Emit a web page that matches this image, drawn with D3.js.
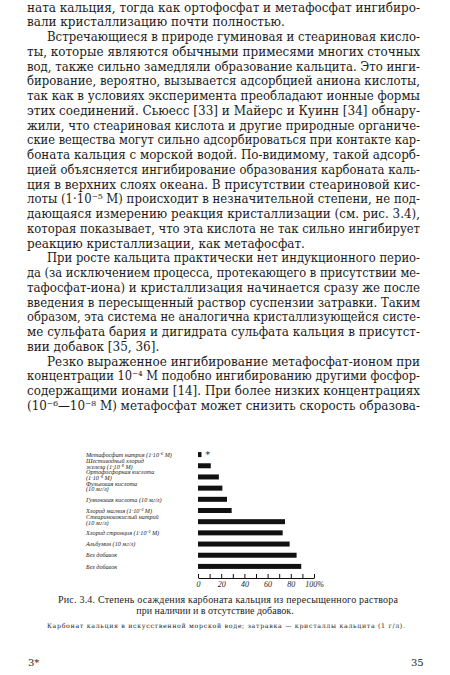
<!DOCTYPE html>
<html>
<head>
<meta charset="utf-8">
<script src="https://cdn.jsdelivr.net/npm/d3@7"></script>
<style>
  body {margin: 0; background: #fff;}
  svg {display: block;}
</style>
</head>
<body>
<div class="page"></div>
<script>
// body text of the page, one entry per printed line; [text, indent, justify]
var bodyLines = [
  ['ната кальция, тогда как ортофосфат и метафосфат ингибиро-', 0, 1],
  ['вали кристаллизацию почти полностью.', 0, 0],
  ['Встречающиеся в природе гуминовая и стеариновая кисло-', 1, 1],
  ['ты, которые являются обычными примесями многих сточных', 0, 1],
  ['вод, также сильно замедляли образование кальцита. Это инги-', 0, 1],
  ['бирование, вероятно, вызывается адсорбцией аниона кислоты,', 0, 1],
  ['так как в условиях эксперимента преобладают ионные формы', 0, 1],
  ['этих соединений. Сьюесс [33] и Майерс и Куинн [34] обнару-', 0, 1],
  ['жили, что стеариновая кислота и другие природные органиче-', 0, 1],
  ['ские вещества могут сильно адсорбироваться при контакте кар-', 0, 1],
  ['боната кальция с морской водой. По-видимому, такой адсорб-', 0, 1],
  ['цией объясняется ингибирование образования карбоната каль-', 0, 1],
  ['ция в верхних слоях океана. В присутствии стеариновой кис-', 0, 1],
  ['лоты (1·10⁻⁵ М) происходит в незначительной степени, не под-', 0, 1],
  ['дающаяся измерению реакция кристаллизации (см. рис. 3.4),', 0, 1],
  ['которая показывает, что эта кислота не так сильно ингибирует', 0, 1],
  ['реакцию кристаллизации, как метафосфат.', 0, 0],
  ['При росте кальцита практически нет индукционного перио-', 1, 1],
  ['да (за исключением процесса, протекающего в присутствии ме-', 0, 1],
  ['тафосфат-иона) и кристаллизация начинается сразу же после', 0, 1],
  ['введения в пересыщенный раствор суспензии затравки. Таким', 0, 1],
  ['образом, эта система не аналогична кристаллизующейся систе-', 0, 1],
  ['ме сульфата бария и дигидрата сульфата кальция в присутст-', 0, 1],
  ['вии добавок [35, 36].', 0, 0],
  ['Резко выраженное ингибирование метафосфат-ионом при', 1, 1],
  ['концентрации 10⁻⁴ М подобно ингибированию другими фосфор-', 0, 1],
  ['содержащими ионами [14]. При более низких концентрациях', 0, 1],
  ['(10⁻⁶—10⁻⁸ М) метафосфат может снизить скорость образова-', 0, 1]
]

// chart data
var additives = [
  ['Метафосфат натрия (1·10⁻⁶ М)'],
  ['Шестиводный хлорид', 'железа (1·10⁻⁵ М)'],
  ['Ортофосфорная кислота', '(1·10⁻⁵ М)'],
  ['Фульвовая кислота', '(10 мг/л)'],
  ['Гуминовая кислота (10 мг/л)'],
  ['Хлорид магния (1·10⁻² М)'],
  ['Стеариновокислый натрий', '(10 мг/л)'],
  ['Хлорид стронция (1·10⁻² М)'],
  ['Альбумин (10 мг/л)'],
  ['Без добавок'],
  ['Без добавок']
]
var precipitated = [3, 11, 18, 21, 25, 29, 75, 73, 79, 85, 89]
var barNotes = ['*', '', '', '', '', '', '', '', '', '', '']
var tickValues = [0, 10, 20, 30, 40, 50, 60, 70, 80, 90, 100]
var tickLabels = {0: '0', 20: '20', 40: '40', 60: '60', 80: '80', 100: '100%'}

var captionLines = [
  'Рис. 3.4. Степень осаждения карбоната кальция из пересыщенного раствора',
  'при наличии и в отсутствие добавок.'
]
var captionNote = 'Карбонат кальция в искусственной морской воде; затравка — кристаллы кальцита (1 г/л).'


var width = 450, height = 675
var svg = d3.select('.page').append('svg')
  .attr('width', width).attr('height', height)
  .style('font-family', '"DejaVu Serif", "Liberation Serif", serif')
  .style('fill', '#1c1c1c')

// text block
var textLeft = 27, textRight = 420, indent = 20, lineStep = 14.75, firstBase = 11.5

svg.append('g').selectAll('text')
  .data(bodyLines)
  .join('text')
  .attr('x', d => textLeft + d[1]*indent)
  .attr('y', (d, i) => firstBase + i*lineStep)
  .attr('font-size', 12)
  .text(d => d[0])
  .each(function(d){
    if (d[2]) d3.select(this)
      .attr('textLength', textRight - textLeft - d[1]*indent)
      .attr('lengthAdjust', 'spacingAndGlyphs')
  })

// chart
var x = d3.scaleLinear().domain([0, 100]).range([198, 314])
var y = d3.scaleBand().domain(d3.range(additives.length)).range([449, 572])
var barH = 5, labelX = 86

var rows = svg.append('g').selectAll('g')
  .data(additives)
  .join('g')
  .attr('transform', (d, i) => 'translate(0,' + (y(i) + y.bandwidth()/2) + ')')

rows.append('rect')
  .attr('x', x(0))
  .attr('y', -barH/2)
  .attr('width', (d, i) => x(precipitated[i]) - x(0))
  .attr('height', barH)
  .attr('fill', '#111')

rows.append('text')
  .attr('x', (d, i) => x(precipitated[i]) + 4)
  .attr('y', 3)
  .attr('font-size', 9)
  .text((d, i) => barNotes[i])

rows.append('text')
  .attr('font-size', 6.2)
  .attr('font-style', 'italic')
  .style('font-family', '"Liberation Serif", serif')
  .selectAll('tspan')
  .data(d => d.map((s, j) => ({s, j, n: d.length})))
  .join('tspan')
  .attr('x', labelX)
  .attr('y', d => d.n == 1 ? 2.2 : -2.6 + d.j*5.6)
  .text(d => d.s)

var axis = d3.axisBottom(x)
  .tickValues(tickValues)
  .tickSizeInner(-4)
  .tickSizeOuter(0)
  .tickPadding(3)
  .tickFormat(d => tickLabels[d] || '')

var axisG = svg.append('g')
  .attr('transform', 'translate(0,578)')
  .call(axis)
axisG.select('.domain').attr('stroke', '#111')
axisG.selectAll('.tick line').attr('stroke', '#111')
axisG.selectAll('.tick text')
  .attr('fill', '#1c1c1c')
  .attr('font-size', 8)
  .attr('font-style', 'italic')
  .style('font-family', '"Liberation Serif", serif')

// caption
svg.append('text')
  .attr('x', 58).attr('y', 603)
  .attr('font-size', 10)
  .style('font-family', '"Liberation Serif", serif')
  .attr('textLength', 340).attr('lengthAdjust', 'spacing')
  .text(captionLines[0])
svg.append('text')
  .attr('x', 215).attr('y', 614)
  .attr('font-size', 10)
  .style('font-family', '"Liberation Serif", serif')
  .attr('text-anchor', 'middle')
  .text(captionLines[1])
svg.append('text')
  .attr('x', 47).attr('y', 628)
  .attr('font-size', 6.3)
  .attr('textLength', 358).attr('lengthAdjust', 'spacing')
  .text(captionNote)

// page numbers
svg.append('text')
  .attr('x', 28).attr('y', 666)
  .attr('font-size', 10)
  .text('3*')
svg.append('text')
  .attr('x', 411).attr('y', 666)
  .attr('font-size', 10)
  .text('35')
</script>
</body>
</html>
